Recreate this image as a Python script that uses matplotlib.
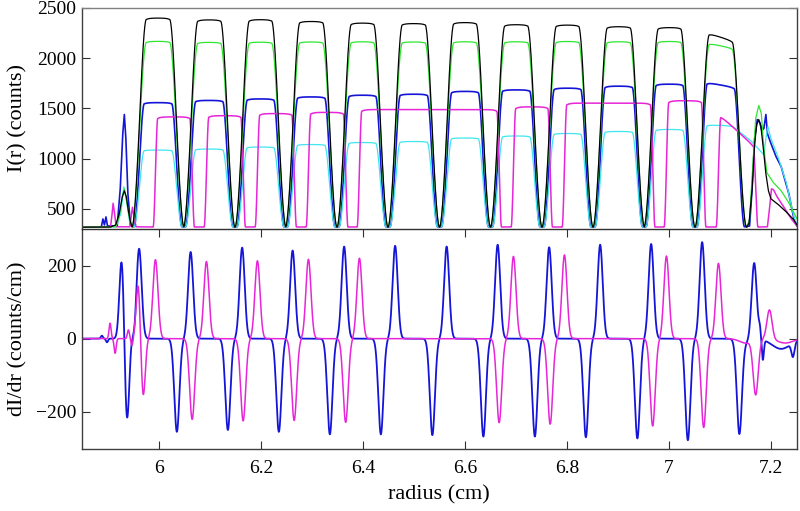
import numpy as np
import matplotlib
matplotlib.use("Agg")
import matplotlib.pyplot as plt

plt.rcParams['font.family'] = ['Liberation Serif', 'DejaVu Serif']

# ---------------- data ----------------
# edges (radius, cm) of the bright plateaus (rising / falling mid-points)
mask_rises = [5.961, 6.062, 6.163, 6.262, 6.363, 6.463, 6.564, 6.664, 6.765, 6.865, 6.965, 7.065]
mask_falls = [6.035, 6.135, 6.235, 6.335, 6.435, 6.536, 6.636, 6.737, 6.837, 6.938, 7.037, 7.138]
mag_rises = [5.993, 6.093, 6.193, 6.293, 6.393, 6.695, 6.795, 6.995, 7.097]
mag_falls = [6.065, 6.165, 6.265, 6.366, 6.667, 6.767, 6.968, 7.068, 7.170]

# plateau intensities (counts); *_last_end is the level at the end of the last plateau
black_levels = [2400, 2382, 2384, 2366, 2350, 2345, 2355, 2334, 2330, 2314, 2305, 2268]
black_last_end = 2150
green_levels = [2168, 2158, 2160, 2162, 2164, 2162, 2164, 2164, 2167, 2164, 2167, 2162]
green_last_end = 2085
blue_levels = [1558, 1580, 1595, 1615, 1632, 1642, 1670, 1685, 1702, 1722, 1742, 1767]
blue_last_end = 1700
cyan_levels = [1086, 1096, 1116, 1141, 1161, 1171, 1206, 1226, 1251, 1271, 1291, 1340]
cyan_last_end = 1320
mag_levels = [1416, 1428, 1449, 1461, 1489, 1516, 1553, 1577, 1445]
mag_last_end = 1110

# irregular start / end sections (radius, counts)
black_head_r = [5.849, 5.905, 5.915, 5.922, 5.928, 5.932, 5.936, 5.940, 5.944, 5.947]
black_head_i = [318, 320, 340, 450, 620, 680, 620, 480, 370, 322]
black_tail_r = [7.153, 7.157, 7.163, 7.168, 7.172, 7.176, 7.180, 7.185, 7.190, 7.195, 7.200, 7.215, 7.230, 7.245, 7.251]
black_tail_i = [322, 360, 700, 1150, 1340, 1390, 1330, 1100, 850, 680, 600, 540, 470, 390, 340]

green_head_r = [5.849, 5.915, 5.922, 5.928, 5.932, 5.937, 5.943, 5.948]
green_head_i = [320, 322, 420, 620, 700, 560, 380, 323]
green_tail_r = [7.153, 7.158, 7.164, 7.170, 7.176, 7.181, 7.186, 7.192, 7.205, 7.220, 7.235, 7.251]
green_tail_i = [325, 400, 900, 1400, 1530, 1450, 1100, 860, 760, 680, 560, 400]

blue_head_r = [5.849, 5.887, 5.890, 5.893, 5.896, 5.899, 5.918, 5.924, 5.929, 5.932, 5.935, 5.939, 5.944, 5.951]
blue_head_i = [320, 322, 400, 340, 420, 330, 330, 700, 1250, 1440, 1200, 650, 340, 322]
blue_tail_r = [7.148, 7.158, 7.163, 7.168, 7.173, 7.178, 7.182, 7.186, 7.190, 7.193, 7.200, 7.210, 7.220, 7.235, 7.245, 7.251]
blue_tail_i = [322, 330, 700, 1200, 1390, 1360, 1280, 1300, 1440, 1250, 1150, 1020, 920, 650, 400, 330]

cyan_head_r = [5.849, 5.915, 5.925, 5.931, 5.936, 5.942, 5.951]
cyan_head_i = [320, 322, 450, 720, 600, 380, 322]
cyan_tail_r = [7.100, 7.125, 7.140, 7.160, 7.175, 7.186, 7.190, 7.194, 7.200, 7.215, 7.230, 7.245, 7.251]
cyan_tail_i = [1335, 1320, 1260, 1180, 1100, 1040, 1200, 1320, 1200, 1000, 760, 420, 340]

mag_head_r = [5.849, 5.905, 5.908, 5.910, 5.913, 5.916, 5.943, 5.946, 5.948, 5.951, 5.955, 5.988]
mag_head_i = [320, 322, 450, 556, 450, 322, 322, 450, 516, 420, 322, 320]
mag_tail_r = [7.175, 7.193, 7.197, 7.201, 7.205, 7.212, 7.225, 7.240, 7.251]
mag_tail_i = [320, 322, 500, 700, 690, 620, 520, 400, 330]

# derivative peaks: centre (cm), height (counts/cm), width (cm)
dblue_r = [5.888, 5.898, 5.927, 5.937, 5.945, 5.953, 5.961, 6.035, 6.062, 6.135, 6.163, 6.235, 6.262,
           6.335, 6.363, 6.435, 6.463, 6.536, 6.564, 6.636, 6.664, 6.737, 6.765, 6.837, 6.865,
           6.938, 6.965, 7.037, 7.065, 7.138, 7.150, 7.167, 7.178, 7.184, 7.220, 7.243]
dblue_h = [8, -10, 225, -232, 12, -12, 246, -255, 237, -250, 249, -255, 241,
           -262, 252, -262, 254, -264, 252, -268, 257, -268, 250, -270, 257,
           -273, 259, -278, 264, -255, -10, 211, 25, -55, -28, -38]
dblue_w = [0.002, 0.002, 0.0045, 0.0045, 0.002, 0.002, 0.005, 0.005, 0.005, 0.005, 0.005, 0.005, 0.005,
           0.005, 0.005, 0.005, 0.005, 0.005, 0.005, 0.005, 0.005, 0.005, 0.005, 0.005, 0.005,
           0.005, 0.005, 0.005, 0.005, 0.005, 0.012, 0.005, 0.002, 0.002, 0.018, 0.003]

dmag_r = [5.904, 5.914, 5.940, 5.947, 5.959, 5.969, 5.993, 6.065, 6.093, 6.165, 6.193, 6.265, 6.293,
          6.366, 6.393, 6.667, 6.695, 6.767, 6.795, 6.968, 6.995, 7.068, 7.097, 7.150, 7.170, 7.197, 7.228]
dmag_h = [42, -40, 24, -20, 150, -159, 216, -221, 211, -225, 213, -224, 217,
          -229, 220, -230, 225, -234, 229, -239, 226, -243, 206, -12, -151, 80, -12]
dmag_w = [0.002, 0.002, 0.002, 0.002, 0.004, 0.004, 0.005, 0.005, 0.005, 0.005, 0.005, 0.005, 0.005,
          0.005, 0.005, 0.005, 0.005, 0.005, 0.005, 0.005, 0.005, 0.005, 0.005, 0.012, 0.005, 0.005, 0.015]

# ---------------- helpers ----------------
r_grid = np.linspace(5.849, 7.251, 5000)


def smoothstep(t):
    t = np.clip(t, 0.0, 1.0)
    return t * t * (3 - 2 * t)


def plateau_trace(rises, falls, levels, last_end, base, span, shoulder,
                  head_r, head_i, tail_r, tail_i):
    ends = list(levels[:-1]) + [last_end]
    sel = (r_grid > head_r[-1]) & (r_grid < tail_r[0])
    r = r_grid[sel]
    y = np.full_like(r, float(base))
    for a, b, l0, l1 in zip(rises, falls, levels, ends):
        frac = np.clip((r - a) / (b - a), 0, 1)
        lev = l0 + (l1 - l0) * frac
        d = np.clip(np.minimum(r - a, b - r), 0, None)
        lev = base + (lev - base) * (1 - shoulder * np.exp(-d / 0.006))
        y += (lev - base) * smoothstep((r - (a - span / 2)) / span) * smoothstep(((b + span / 2) - r) / span)
    return (np.concatenate([head_r, r, tail_r]), np.concatenate([head_i, y, tail_i]))


def peak_trace(centres, heights, widths):
    y = np.zeros_like(r_grid)
    for c, h, w in zip(centres, heights, widths):
        y += h * np.exp(-0.5 * ((r_grid - c) / w) ** 2)
    return y


# ---------------- figure ----------------
fig = plt.figure(figsize=(8.0, 5.11), dpi=100)
L, R = 82 / 800, 797 / 800
ax1 = fig.add_axes([L, 1 - 229 / 511, R - L, (229 - 8) / 511])
ax2 = fig.add_axes([L, 1 - 449 / 511, R - L, (449 - 229) / 511], sharex=ax1)
ax2.patch.set_visible(False)
ax1.set_zorder(3)
ax1.patch.set_visible(False)

traces = [
    (mask_rises, mask_falls, blue_levels, blue_last_end, 322, 0.020, 0.05, blue_head_r, blue_head_i, blue_tail_r, blue_tail_i, '#1515d8', 1.2),
    (mask_rises, mask_falls, cyan_levels, cyan_last_end, 322, 0.020, 0.05, cyan_head_r, cyan_head_i, cyan_tail_r, cyan_tail_i, '#3fe6f0', 0.9),
    (mag_rises, mag_falls, mag_levels, mag_last_end, 320, 0.009, 0.03, mag_head_r, mag_head_i, mag_tail_r, mag_tail_i, '#e626d8', 1.1),
    (mask_rises, mask_falls, green_levels, green_last_end, 322, 0.028, 0.06, green_head_r, green_head_i, green_tail_r, green_tail_i, '#2ee62e', 0.9),
    (mask_rises, mask_falls, black_levels, black_last_end, 318, 0.028, 0.07, black_head_r, black_head_i, black_tail_r, black_tail_i, '#000000', 0.9),
]
for (ri, fa, lv, le, base, span, sh, hr, hi, tr, ti, col, lw) in traces:
    x, y = plateau_trace(ri, fa, lv, le, base, span, sh, hr, hi, tr, ti)
    ax1.plot(x, y, color=col, lw=lw)

ax2.plot(r_grid, peak_trace(dblue_r, dblue_h, dblue_w), color='#1515d8', lw=1.3)
ax2.plot(r_grid, peak_trace(dmag_r, dmag_h, dmag_w), color='#e626d8', lw=1.1)

ax1.set_xlim(5.849, 7.251)
ax1.set_ylim(300, 2500)
ax2.set_ylim(-302, 300)

xt = [6.0, 6.2, 6.4, 6.6, 6.8, 7.0, 7.2]
ax2.set_xticks(xt)
ax2.set_xticklabels(['6', '6.2', '6.4', '6.6', '6.8', '7', '7.2'])
ax1.set_yticks([500, 1000, 1500, 2000, 2500])
ax2.set_yticks([-200, 0, 200])

fs = 14
ax1.tick_params(axis='x', which='both', direction='out', length=6, labelbottom=False, color='#303030')
ax1.tick_params(axis='y', direction='in', length=6, right=True, labelsize=fs, pad=4, color='#303030')
ax2.tick_params(axis='x', direction='in', length=6, labelsize=fs, pad=8, color='#303030')
ax2.tick_params(axis='y', direction='in', length=6, right=True, labelsize=fs, pad=4, color='#303030')

for ax in (ax1, ax2):
    for s in ax.spines.values():
        s.set_color('#404040')
        s.set_linewidth(1.0)
ax1.spines['top'].set_color('#808080')
ax1.spines['bottom'].set_color('#303030')
ax2.spines['top'].set_visible(False)

fig.text(18 / 800, 1 - 118 / 511, 'I(r) (counts)', rotation=90, ha='center', va='center', fontsize=16)
fig.text(18 / 800, 1 - 339 / 511, 'dI/dr (counts/cm)', rotation=90, ha='center', va='center', fontsize=16)
fig.text(439 / 800, 1 - 495 / 511, 'radius (cm)', ha='center', va='center', fontsize=16)

fig.savefig('out.png', dpi=100, facecolor='white')
